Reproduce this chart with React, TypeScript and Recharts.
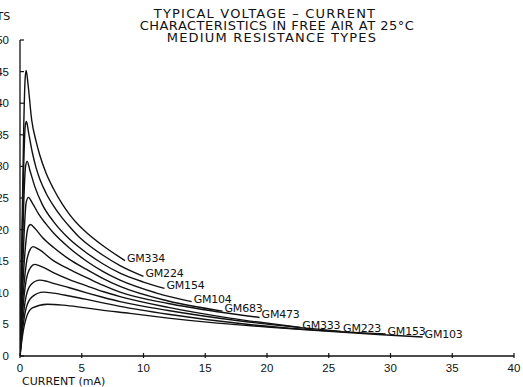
import React from 'react';
import { LineChart, Line, XAxis, YAxis } from 'recharts';

// Current (mA), Voltage (V) pairs for each thermistor type
const GM334: [number, number][] = [[0, 0], [0.15, 18], [0.3, 36], [0.42, 44], [0.5, 45.2], [0.65, 43], [0.95, 37.3], [1.3, 34], [1.6, 31.8], [2.1, 29], [2.7, 26.5], [3.4, 24.1], [4.05, 22.3], [4.8, 20.6], [5.4, 19.5], [6.75, 17.4], [8.5, 15.1]];
const GM224: [number, number][] = [[0, 0], [0.15, 16], [0.3, 30], [0.42, 36.3], [0.52, 37.1], [0.7, 35.3], [1.0, 32.2], [1.3, 29.8], [1.6, 28.0], [2.1, 25.8], [2.7, 23.8], [3.4, 21.9], [4, 20.5], [4.7, 19.0], [5.4, 17.8], [6.75, 15.9], [8.1, 14.3], [10.0, 12.6]];
const GM154: [number, number][] = [[0, 0], [0.15, 13], [0.3, 24], [0.45, 30], [0.58, 30.8], [0.8, 29.4], [1.2, 26.8], [1.8, 24.0], [2.7, 21.3], [4, 18.5], [5.4, 16.3], [6.7, 14.6], [8.1, 13.1], [10, 11.7], [11.7, 10.7]];
const GM104: [number, number][] = [[0, 0], [0.15, 10], [0.35, 20], [0.5, 24.3], [0.68, 25.1], [1.0, 24.2], [1.5, 22.5], [2.1, 20.9], [2.7, 19.5], [4, 17.1], [5.4, 15.0], [6.7, 13.4], [8.1, 12.0], [11, 10], [13.9, 8.6]];
const GM683: [number, number][] = [[0, 0], [0.2, 10], [0.45, 17.5], [0.65, 20.3], [0.85, 20.8], [1.2, 20.2], [1.8, 18.8], [2.7, 17.2], [4, 15.3], [5.4, 13.7], [6.7, 12.3], [8.1, 11.0], [12, 8.7], [16.4, 7.1]];
const GM473: [number, number][] = [[0, 0], [0.2, 8], [0.5, 14.5], [0.8, 16.8], [1.05, 17.3], [1.5, 16.9], [2.7, 15.1], [4, 13.7], [5.4, 12.4], [6.7, 11.2], [8.1, 10.1], [12, 8.3], [16, 7.0], [19.4, 6.1]];
const GM333: [number, number][] = [[0, 0], [0.2, 6.5], [0.5, 12], [0.85, 14], [1.2, 14.5], [1.8, 14.1], [2.7, 13.2], [4, 12.1], [5.4, 11.1], [6.7, 10.2], [8.1, 9.4], [12, 7.7], [17, 6.0], [22.7, 4.5]];
const GM223: [number, number][] = [[0, 0], [0.2, 5], [0.5, 9.5], [0.9, 11.3], [1.6, 12.0], [2.2, 11.8], [2.7, 11.5], [4, 10.8], [5.4, 10.0], [6.7, 9.3], [8.1, 8.6], [12, 7.2], [18, 5.5], [26, 3.9]];
const GM153: [number, number][] = [[0, 0], [0.2, 4], [0.5, 7.6], [1.0, 9.4], [1.9, 10.1], [2.7, 9.95], [4, 9.5], [5.4, 8.95], [6.7, 8.4], [8.1, 7.85], [12, 6.6], [18, 5.1], [24, 4.1], [29.6, 3.5]];
const GM103: [number, number][] = [[0, 0], [0.2, 3.2], [0.5, 6], [1.0, 7.6], [2.2, 8.2], [3.5, 8.05], [5, 7.7], [6.5, 7.3], [8.9, 6.75], [12, 6.0], [16, 5.2], [20, 4.6], [25, 3.9], [29, 3.4], [32.6, 3.0]];

const curveNames = ['GM334', 'GM224', 'GM154', 'GM104', 'GM683', 'GM473', 'GM333', 'GM223', 'GM153', 'GM103'];
const curvePoints = [GM334, GM224, GM154, GM104, GM683, GM473, GM333, GM223, GM153, GM103];

const xTicks = [0, 5, 10, 15, 20, 25, 30, 35, 40];
const yTicks = [0, 5, 10, 15, 20, 25, 30, 35, 40, 45, 50];

const titleLines = ['TYPICAL VOLTAGE – CURRENT', 'CHARACTERISTICS IN FREE AIR AT 25°C', 'MEDIUM RESISTANCE TYPES'];
const yAxisTitle = 'VOLTS';
const xAxisTitle = 'CURRENT (mA)';

const FONT = '"Liberation Sans", Arial, sans-serif';
const WIDE = '"DejaVu Sans", Verdana, sans-serif';
const INK = '#111';

const XTick = (props: any) => {
  const { x, y, payload } = props;
  return (
    <g>
      <line x1={x} x2={x} y1={y - 10} y2={y - 5} stroke={INK} strokeWidth={1.2} />
      <text x={x} y={y} dy="0.75em" textAnchor="middle" fontSize={11.5} fontFamily={FONT} fill={INK}>
        {payload.value}
      </text>
    </g>
  );
};

const YTick = (props: any) => {
  const { x, y, payload } = props;
  return (
    <g>
      <line x1={x + 11} x2={x + 15} y1={y} y2={y} stroke={INK} strokeWidth={1.2} />
      <text x={x} y={y} dy="0.35em" textAnchor="end" fontSize={11.5} fontFamily={FONT} fill={INK}>
        {payload.value}
      </text>
    </g>
  );
};

const makeLabel = (name: string, last: number) => (props: any) => {
  if (props.index !== last) return <g />;
  return (
    <text x={props.x + 2} y={props.y + 1} fontSize={11} fontFamily={WIDE} fill={INK} letterSpacing={-0.2}>
      {name}
    </text>
  );
};

const titleShift = [-5, 7, 2];
const titleSpacing = [1.2, 0.5, 1.2];

export default function App() {
  return (
    <div style={{ position: 'absolute', left: 0, top: 0, width: 523, height: 387, background: '#fff' }}>
      <LineChart width={523} height={387} margin={{ top: 40, right: 9, bottom: 0, left: 0 }}>
        <XAxis
          type="number"
          dataKey="i"
          domain={[0, 40]}
          ticks={xTicks}
          allowDataOverflow
          height={31}
          tickSize={0}
          tickMargin={7}
          tick={<XTick />}
          axisLine={{ stroke: INK, strokeWidth: 1.3 }}
          tickLine={false}
          label={{ value: xAxisTitle, position: 'insideBottomLeft', offset: 2, fontSize: 11, fontFamily: WIDE, fill: INK }}
        />
        <YAxis
          type="number"
          domain={[0, 50]}
          ticks={yTicks}
          width={20}
          tickSize={0}
          tickMargin={11}
          tick={<YTick />}
          axisLine={{ stroke: INK, strokeWidth: 1.3 }}
          tickLine={false}
          interval={0}
        />
        {curvePoints.map((pts, k) => (
          <Line
            key={curveNames[k]}
            data={pts.map(([i, v]) => ({ i, v }))}
            dataKey="v"
            type="monotone"
            stroke={INK}
            strokeWidth={1.4}
            dot={false}
            isAnimationActive={false}
            label={makeLabel(curveNames[k], pts.length - 1)}
          />
        ))}
      </LineChart>
      <div style={{ position: 'absolute', left: -24, top: 10, fontFamily: WIDE, fontSize: 11, color: INK }}>{yAxisTitle}</div>
      <div style={{ position: 'absolute', left: 0, top: 8, width: 540, fontFamily: WIDE, fontSize: 13, lineHeight: '12px', color: INK, textAlign: 'center' }}>
        {titleLines.map((t, k) => (
          <div key={k} style={{ position: 'relative', left: titleShift[k], letterSpacing: titleSpacing[k] }}>{t}</div>
        ))}
      </div>
    </div>
  );
}
